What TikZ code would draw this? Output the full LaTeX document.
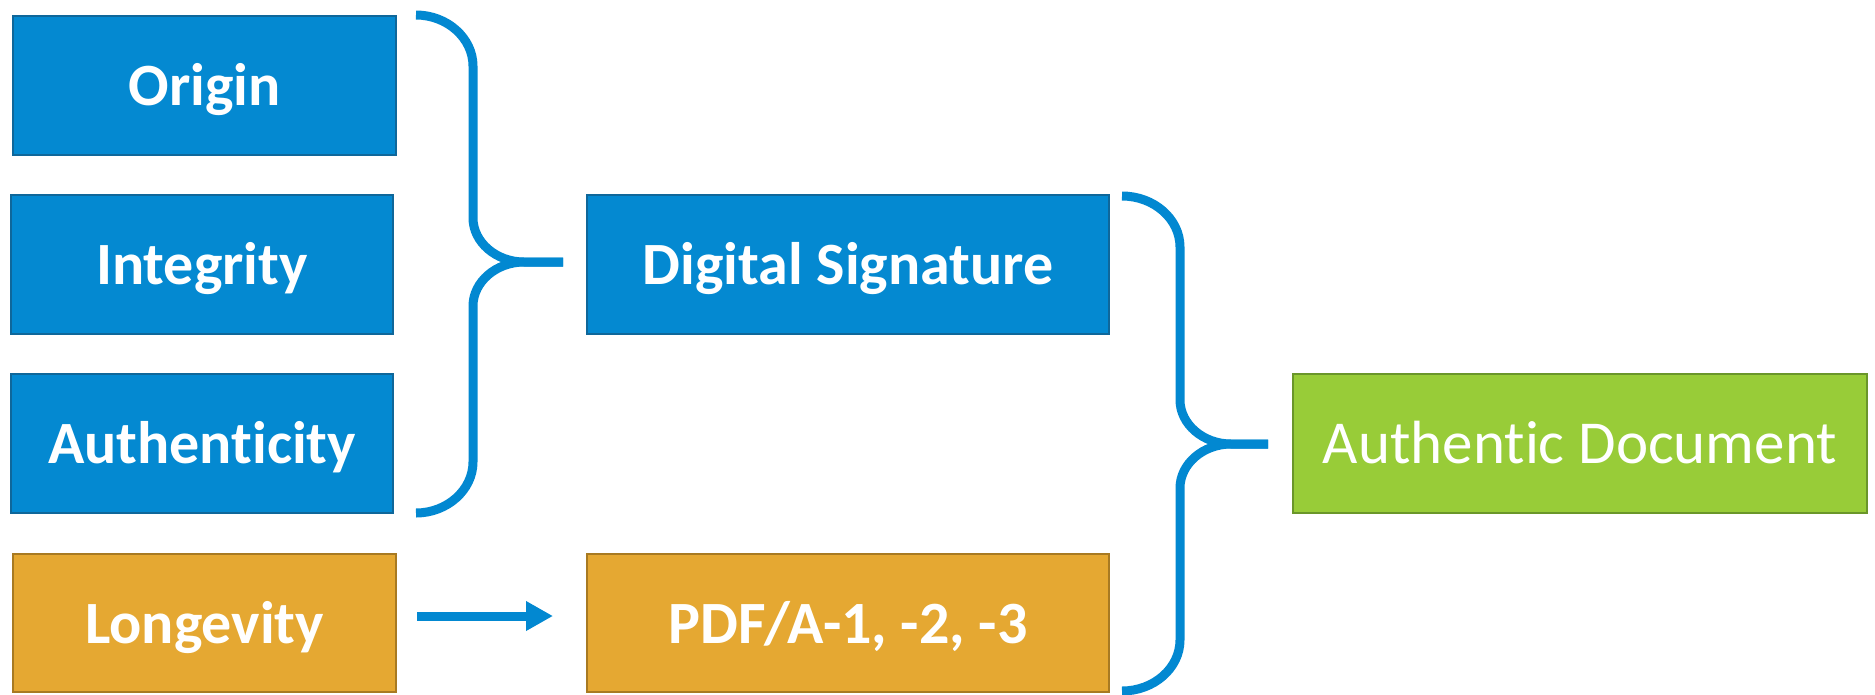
\documentclass[tikz,border=0pt]{standalone}
\usepackage{fontspec}
\setmainfont[Ligatures=NoCommon]{Carlito}
\usetikzlibrary{arrows.meta}
\definecolor{bfill}{HTML}{0489D1}
\definecolor{bdraw}{HTML}{0F679A}
\definecolor{ofill}{HTML}{E5A832}
\definecolor{odraw}{HTML}{A87A22}
\definecolor{gfill}{HTML}{98CC38}
\definecolor{gdraw}{HTML}{6A962A}
\definecolor{conn}{HTML}{0288D1}
\tikzset{
  box/.style={draw, line width=2pt, inner sep=0pt},
  bluebox/.style={box, fill=bfill, draw=bdraw},
  orangebox/.style={box, fill=ofill, draw=odraw},
  greenbox/.style={box, fill=gfill, draw=gdraw},
  lbl/.style={text=white, font=\fontsize{60}{70}\selectfont\bfseries, anchor=base, inner sep=0pt},
  brace/.style={draw=conn, line width=9pt},
  arr/.style={draw=conn, line width=9pt, -{Triangle[length=27pt,width=28pt]}}
}
\begin{document}
\begin{tikzpicture}[x=1pt,y=-1pt]
\useasboundingbox (0,0) rectangle (1875,694);
\node[bluebox, minimum width=383pt, minimum height=139pt] (origin) at (204.5,85) {};
\node[bluebox, minimum width=382pt, minimum height=139pt] (integ) at (202,264.5) {};
\node[bluebox, minimum width=382pt, minimum height=139pt] (auth) at (202,443.5) {};
\node[orangebox, minimum width=383pt, minimum height=138pt] (long) at (204.5,623) {};
\node[bluebox, minimum width=522pt, minimum height=139pt] (ds) at (848,264.5) {};
\node[orangebox, minimum width=522pt, minimum height=138pt] (pdf) at (848,623) {};
\node[greenbox, minimum width=574pt, minimum height=139pt] (ad) at (1580,443.5) {};
% labels (baseline-positioned inside boxes)
\node[lbl] (tOrigin) at ([yshift=-20pt]origin.center) {Origin};
\node[lbl] (tInteg) at ([yshift=-20pt]integ.center) {Integrity};
\node[lbl] (tAuth) at ([yshift=-20pt]auth.center) {Authenticity};
\node[lbl] (tLong) at ([yshift=-20pt]long.center) {Longevity};
\node[lbl] (tDs) at ([yshift=-20pt]ds.center) {Digital Signature};
\node[lbl] (tPdf) at ([yshift=-20pt]pdf.center) {PDF/A-1, -2, -3};
\node[lbl, font=\fontsize{61}{70}\selectfont] (tAd) at ([yshift=-20pt]ad.center) {Authentic Document};
% brace 1
\coordinate (b1top) at (416,15);
\coordinate (b1tip) at (563,262);
\coordinate (b1bot) at (416,513);
\draw[brace] (b1top) .. controls +(31,0) and +(0,-28) .. (473,66)
  -- (473,218) .. controls +(0,24) and +(-28,0) .. (524,262) -- (b1tip);
\draw[brace] (b1tip) -- (524,262) .. controls +(-28,0) and +(0,-24) .. (473,306)
  -- (473,462) .. controls +(0,28) and +(31,0) .. (b1bot);
% brace 2
\coordinate (b2top) at (1122,196);
\coordinate (b2tip) at (1268,444);
\coordinate (b2bot) at (1122,691);
\draw[brace] (b2top) .. controls +(32,0) and +(0,-28) .. (1180,247)
  -- (1180,400) .. controls +(0,24) and +(-28,0) .. (1231,444) -- (b2tip);
\draw[brace] (b2tip) -- (1231,444) .. controls +(-28,0) and +(0,-24) .. (1180,488)
  -- (1180,640) .. controls +(0,28) and +(32,0) .. (b2bot);
% arrow
\draw[arr] ([xshift=20pt,yshift=7pt]long.east) -- ([xshift=-33pt,yshift=7pt]pdf.west);
\end{tikzpicture}
\end{document}
